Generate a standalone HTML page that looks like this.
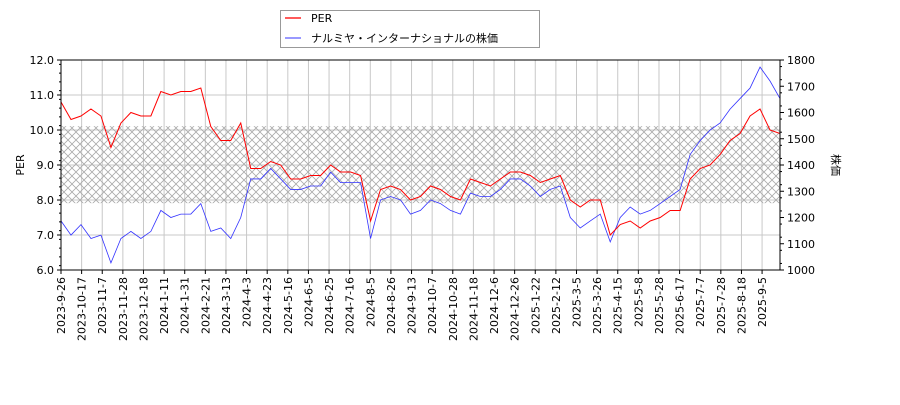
<!DOCTYPE html>
<html><head><meta charset="utf-8"><style>
body{margin:0;background:#fff;}
svg text{font-family:"DejaVu Sans","Liberation Sans","Noto Sans CJK JP",sans-serif;font-size:11px;fill:#000;}
</style></head><body>
<svg id="chart" width="900" height="400" xmlns="http://www.w3.org/2000/svg">
<defs>
<pattern id="hatch" width="8" height="8" patternUnits="userSpaceOnUse">
<path d="M0,0L8,8M8,0L0,8" stroke="#aaa" stroke-width="0.8"/>
</pattern>
<clipPath id="clip"><rect x="61" y="60" width="719" height="210"/></clipPath>
</defs>
<rect x="61" y="60" width="719" height="210" fill="#fff"/>
<g id="grid"></g>
<rect id="band" fill="url(#hatch)"/>
<g id="series" clip-path="url(#clip)"></g>
<rect x="61" y="60" width="719" height="210" fill="none" stroke="#000" stroke-width="1"/>
<g id="axes"></g>
<text x="24" y="165" transform="rotate(-90 24 165)" text-anchor="middle" font-size="11">PER</text>
<text x="832" y="165" transform="rotate(90 832 165)" text-anchor="middle" font-size="12">株価</text>
<g>
<rect x="280.5" y="10.5" width="259" height="37" fill="#fff" stroke="#999"/>
<line x1="285" y1="18" x2="301" y2="18" stroke="#f00" stroke-width="1.3"/>
<text x="311" y="22" font-size="11">PER</text>
<line x1="285" y1="38" x2="301" y2="38" stroke="#33f" stroke-width="1"/>
<text x="311" y="42" font-size="12">ナルミヤ・インターナショナルの株価</text>
</g>
</svg>
<script>
const xTickLabels=["2023-9-26","2023-10-17","2023-11-7","2023-11-28","2023-12-18","2024-1-11","2024-1-31","2024-2-21","2024-3-13","2024-4-3","2024-4-23","2024-5-16","2024-6-5","2024-6-25","2024-7-16","2024-8-5","2024-8-26","2024-9-13","2024-10-7","2024-10-28","2024-11-18","2024-12-6","2024-12-26","2025-1-22","2025-2-12","2025-3-5","2025-3-26","2025-4-15","2025-5-8","2025-5-28","2025-6-17","2025-7-7","2025-7-28","2025-8-18","2025-9-5"];
const yTicks=[6,7,8,9,10,11,12];
const y2Ticks=[1000,1100,1200,1300,1400,1500,1600,1700,1800];
const bandRange=[7.91,10.11];
const perValues=[10.8,10.3,10.4,10.6,10.4,9.5,10.2,10.5,10.4,10.4,11.1,11.0,11.1,11.1,11.2,10.1,9.7,9.7,10.2,8.9,8.9,9.1,9.0,8.6,8.6,8.7,8.7,9.0,8.8,8.8,8.7,7.4,8.3,8.4,8.3,8.0,8.1,8.4,8.3,8.1,8.0,8.6,8.5,8.4,8.6,8.8,8.8,8.7,8.5,8.6,8.7,8.0,7.8,8.0,8.0,7.0,7.3,7.4,7.2,7.4,7.5,7.7,7.7,8.6,8.9,9.0,9.3,9.7,9.9,10.4,10.6,10.0,9.9];
const priceValues=[1187,1133,1173,1120,1133,1027,1120,1147,1120,1147,1227,1200,1213,1213,1253,1147,1160,1120,1200,1347,1347,1387,1347,1307,1307,1320,1320,1373,1333,1333,1333,1120,1267,1280,1267,1213,1227,1267,1253,1227,1213,1293,1280,1280,1307,1347,1347,1320,1280,1307,1320,1200,1160,1187,1213,1107,1200,1240,1213,1227,1253,1280,1307,1440,1493,1533,1560,1613,1653,1693,1773,1720,1653];

const NS="http://www.w3.org/2000/svg";
const L=61,R=780,T=60,B=270;
const yS=v=>B-(v-6)/(12-6)*(B-T);
const y2S=v=>B-(v-1000)/(1800-1000)*(B-T);
const xS=i=>L+i*(R-L)/(perValues.length-1);
const xTick=i=>L+i*20.62;
function mk(tag,attrs,parent){const e=document.createElementNS(NS,tag);for(const k in attrs)e.setAttribute(k,attrs[k]);parent.appendChild(e);return e;}
const grid=document.getElementById('grid'),axes=document.getElementById('axes'),series=document.getElementById('series');
yTicks.forEach(v=>{const y=yS(v);
mk('line',{x1:L,x2:R,y1:y,y2:y,stroke:'#c8c8c8','stroke-width':1},grid);
mk('line',{x1:L-4,x2:L,y1:y,y2:y,stroke:'#000'},axes);
const t=mk('text',{x:L-7,y:y+4,'text-anchor':'end','font-size':11},axes);t.textContent=v.toFixed(1);


});
y2Ticks.forEach(v=>{const y=y2S(v);
mk('line',{x1:R,x2:R+4,y1:y,y2:y,stroke:'#000'},axes);
const t=mk('text',{x:R+7,y:y+4,'font-size':11},axes);t.textContent=v;


});
for(let k=0;k<16;k++){const y=y2S(1000+k*50+25);mk('line',{x1:R,x2:R+2,y1:y,y2:y,stroke:'#000'},axes);}
for(let k=0;k<24;k++){const y=yS(6+k*0.25+0.125);if(y>T&&y<B)mk('line',{x1:L-2,x2:L,y1:y,y2:y,stroke:'#000'},axes);}
xTickLabels.forEach((s,i)=>{const x=xTick(i);
mk('line',{x1:x,x2:x,y1:T,y2:B,stroke:'#c8c8c8','stroke-width':1},grid);
mk('line',{x1:x,x2:x,y1:B,y2:B+4,stroke:'#000'},axes);
const t=mk('text',{x:x+4,y:B+7,transform:`rotate(-90 ${x+4} ${B+7})`,'text-anchor':'end','font-size':10},axes);t.textContent=s;


});
const band=document.getElementById('band');
band.setAttribute('x',L);band.setAttribute('width',R-L);
band.setAttribute('y',yS(bandRange[1]));band.setAttribute('height',yS(bandRange[0])-yS(bandRange[1]));
const pp=mk('polyline',{points:priceValues.map((v,i)=>xS(i)+','+y2S(v)).join(' '),fill:'none',stroke:'#33f','stroke-width':0.8},series);


const pl=mk('polyline',{points:perValues.map((v,i)=>xS(i)+','+yS(v)).join(' '),fill:'none',stroke:'#f00','stroke-width':1},series);


</script>
</body></html>
